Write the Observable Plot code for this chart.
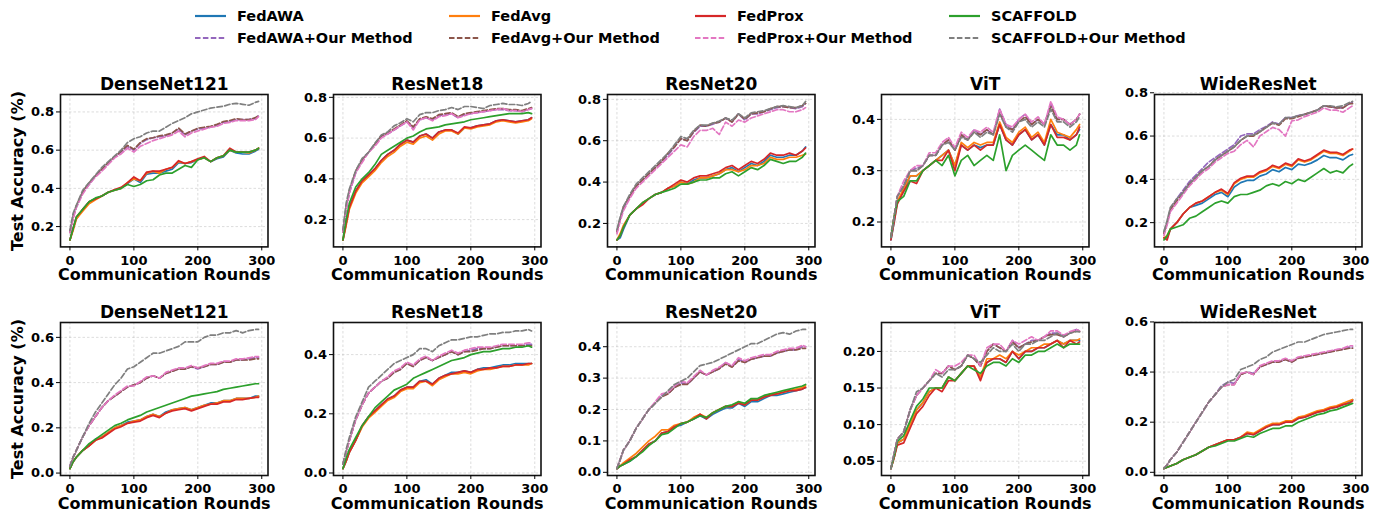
<!DOCTYPE html>
<html><head><meta charset="utf-8">
<script src="https://cdn.jsdelivr.net/npm/d3@7"></script>
<script src="https://cdn.jsdelivr.net/npm/@observablehq/plot@0.6"></script>
<style>
body{margin:0;background:#fff;}
#root{position:relative;width:1380px;height:512px;overflow:hidden;font-family:"DejaVu Sans",sans-serif;font-weight:bold;color:#000;background:#fff;}
.abs{position:absolute;}
.ylab{position:absolute;white-space:nowrap;font-size:16px;transform:translate(-50%,-50%) rotate(-90deg);}
.leg{position:absolute;font-size:14.5px;white-space:nowrap;transform:translateY(-50%);}
</style></head><body><div id="root"></div>
<script>
// ---------------- data ----------------
const rounds = [0,5,10,20, 30,40,50,60,70,80,90,100, 110,120,130,140,150,160,170,180,190,200, 210,220,230,240,250,260,270,280,290,295];
const methods = ["FedAWA","FedAvg","FedProx","SCAFFOLD","FedAWA+Our Method","FedAvg+Our Method","FedProx+Our Method","SCAFFOLD+Our Method"];
const colors = ["#1f77b4","#ff7f0e","#d62728","#2ca02c","#9467bd","#8c564b","#e377c2","#7f7f7f"];
const dashed = [false,false,false,false,true,true,true,true];
const drawOrder = [0,4,1,5,2,6,3,7];
const models = ["DenseNet121","ResNet18","ResNet20","ViT","WideResNet"];
const xTicks = [0,100,200,300];
const yTicksRow1 = [[0.2,0.4,0.6,0.8],[0.2,0.4,0.6,0.8],[0.2,0.4,0.6,0.8],[0.2,0.3,0.4],[0.2,0.4,0.6,0.8]];
const yTicksRow2 = [[0.0,0.2,0.4,0.6],[0.0,0.2,0.4],[0.0,0.1,0.2,0.3,0.4],[0.05,0.10,0.15,0.20],[0.0,0.2,0.4,0.6]];
const yFormatRow1 = [".1f",".1f",".1f",".1f",".1f"];
const yFormatRow2 = [".1f",".1f",".1f",".2f",".1f"];

// each: [FedAWA, FedAvg, FedProx, SCAFFOLD, FedAWA+, FedAvg+, FedProx+, SCAFFOLD+]
const row1DenseNet121 = [
 [0.13,0.19,0.24,0.29, 0.33,0.345,0.36,0.38,0.39,0.40,0.425,0.45, 0.43,0.475,0.48,0.48,0.49,0.50,0.535,0.53,0.535,0.55, 0.56,0.54,0.555,0.565,0.60,0.585,0.58,0.58,0.595,0.605],
 [0.13,0.18,0.24,0.28, 0.32,0.34,0.36,0.38,0.39,0.40,0.43,0.45, 0.44,0.48,0.49,0.48,0.50,0.51,0.54,0.53,0.54,0.55, 0.56,0.54,0.56,0.57,0.60,0.59,0.59,0.585,0.60,0.61],
 [0.13,0.19,0.25,0.29, 0.33,0.345,0.36,0.38,0.394,0.405,0.43,0.46, 0.44,0.485,0.49,0.49,0.50,0.51,0.545,0.53,0.54,0.555, 0.567,0.54,0.56,0.57,0.61,0.59,0.59,0.59,0.60,0.61],
 [0.13,0.19,0.25,0.29, 0.33,0.35,0.36,0.38,0.39,0.40,0.42,0.41, 0.42,0.44,0.445,0.47,0.48,0.48,0.50,0.52,0.51,0.55, 0.56,0.54,0.56,0.57,0.60,0.59,0.59,0.59,0.60,0.61],
 [0.17,0.25,0.30,0.38, 0.42,0.465,0.50,0.53,0.565,0.59,0.62,0.60, 0.635,0.655,0.665,0.67,0.675,0.69,0.71,0.68,0.70,0.71, 0.715,0.72,0.73,0.745,0.75,0.76,0.76,0.76,0.765,0.78],
 [0.17,0.25,0.31,0.38, 0.43,0.465,0.50,0.535,0.565,0.595,0.625,0.605, 0.64,0.66,0.665,0.675,0.68,0.69,0.715,0.685,0.70,0.715, 0.72,0.725,0.735,0.75,0.755,0.765,0.76,0.76,0.77,0.78],
 [0.17,0.24,0.30,0.37, 0.42,0.46,0.49,0.525,0.56,0.58,0.61,0.59, 0.62,0.635,0.65,0.66,0.67,0.68,0.70,0.67,0.69,0.70, 0.71,0.72,0.725,0.74,0.745,0.755,0.755,0.755,0.76,0.775],
 [0.18,0.27,0.31,0.39, 0.43,0.47,0.51,0.54,0.57,0.60,0.64,0.66, 0.67,0.69,0.70,0.70,0.72,0.74,0.755,0.77,0.79,0.80, 0.81,0.82,0.825,0.83,0.84,0.845,0.84,0.835,0.85,0.855]
];
const row1ResNet18 = [
 [0.10,0.18,0.26,0.34, 0.39,0.42,0.45,0.49,0.52,0.54,0.57,0.59, 0.58,0.61,0.62,0.60,0.63,0.64,0.64,0.62,0.65,0.65, 0.66,0.665,0.67,0.685,0.69,0.685,0.68,0.685,0.69,0.70],
 [0.10,0.17,0.25,0.33, 0.38,0.41,0.44,0.48,0.51,0.53,0.56,0.58, 0.57,0.60,0.61,0.59,0.62,0.635,0.635,0.62,0.65,0.645, 0.655,0.66,0.665,0.68,0.685,0.68,0.675,0.68,0.685,0.695],
 [0.10,0.18,0.26,0.34, 0.39,0.42,0.45,0.49,0.52,0.54,0.57,0.59, 0.58,0.61,0.62,0.60,0.63,0.64,0.64,0.625,0.655,0.65, 0.66,0.665,0.67,0.685,0.69,0.685,0.68,0.685,0.69,0.70],
 [0.10,0.20,0.28,0.36, 0.40,0.43,0.47,0.52,0.54,0.56,0.58,0.60, 0.61,0.63,0.645,0.65,0.655,0.665,0.67,0.675,0.68,0.69, 0.695,0.70,0.705,0.71,0.715,0.72,0.72,0.72,0.725,0.72],
 [0.14,0.25,0.33,0.43, 0.49,0.53,0.57,0.61,0.62,0.64,0.66,0.68, 0.65,0.69,0.70,0.69,0.71,0.715,0.72,0.70,0.715,0.72, 0.725,0.73,0.735,0.74,0.74,0.735,0.735,0.73,0.74,0.745],
 [0.14,0.26,0.34,0.44, 0.49,0.53,0.57,0.61,0.625,0.645,0.665,0.685, 0.655,0.695,0.705,0.695,0.715,0.72,0.725,0.705,0.72,0.725, 0.73,0.735,0.74,0.745,0.745,0.74,0.74,0.735,0.745,0.75],
 [0.14,0.25,0.33,0.43, 0.48,0.53,0.56,0.60,0.62,0.64,0.66,0.68, 0.64,0.69,0.70,0.685,0.705,0.71,0.72,0.70,0.71,0.72, 0.725,0.73,0.735,0.74,0.745,0.735,0.735,0.73,0.74,0.745],
 [0.15,0.28,0.35,0.44, 0.50,0.53,0.575,0.615,0.63,0.66,0.675,0.695, 0.68,0.715,0.725,0.725,0.735,0.74,0.75,0.74,0.755,0.755, 0.75,0.745,0.76,0.765,0.77,0.765,0.765,0.76,0.77,0.78]
];
const row1ResNet20 = [
 [0.12,0.13,0.17,0.24, 0.27,0.30,0.32,0.34,0.35,0.37,0.38,0.40, 0.39,0.41,0.42,0.42,0.43,0.44,0.46,0.47,0.45,0.47, 0.49,0.48,0.50,0.53,0.52,0.52,0.53,0.53,0.55,0.57],
 [0.12,0.15,0.19,0.24, 0.27,0.30,0.32,0.34,0.35,0.37,0.38,0.40, 0.39,0.40,0.42,0.42,0.43,0.44,0.46,0.46,0.45,0.46, 0.48,0.48,0.49,0.52,0.51,0.51,0.52,0.52,0.53,0.535],
 [0.12,0.14,0.18,0.24, 0.27,0.29,0.32,0.34,0.35,0.37,0.39,0.41, 0.40,0.42,0.43,0.43,0.44,0.45,0.47,0.48,0.46,0.48, 0.50,0.49,0.51,0.54,0.53,0.53,0.54,0.53,0.55,0.565],
 [0.12,0.14,0.18,0.24, 0.27,0.30,0.32,0.34,0.35,0.36,0.37,0.39, 0.39,0.40,0.41,0.41,0.42,0.42,0.44,0.45,0.43,0.45, 0.47,0.46,0.48,0.51,0.50,0.49,0.50,0.50,0.52,0.54],
 [0.16,0.22,0.27,0.33, 0.38,0.41,0.44,0.47,0.50,0.53,0.57,0.61, 0.60,0.64,0.67,0.67,0.68,0.69,0.71,0.69,0.73,0.70, 0.73,0.73,0.74,0.75,0.76,0.765,0.76,0.755,0.765,0.78],
 [0.16,0.22,0.28,0.33, 0.38,0.41,0.44,0.47,0.50,0.54,0.57,0.61, 0.60,0.645,0.675,0.67,0.685,0.69,0.71,0.69,0.73,0.705, 0.73,0.735,0.74,0.755,0.765,0.765,0.76,0.76,0.77,0.78],
 [0.15,0.21,0.26,0.32, 0.37,0.40,0.43,0.46,0.49,0.52,0.55,0.58, 0.57,0.62,0.65,0.65,0.66,0.63,0.69,0.67,0.70,0.69, 0.71,0.72,0.73,0.74,0.75,0.75,0.74,0.74,0.75,0.76],
 [0.17,0.23,0.28,0.34, 0.39,0.42,0.45,0.48,0.51,0.54,0.58,0.62, 0.61,0.65,0.675,0.675,0.685,0.695,0.71,0.70,0.73,0.71, 0.735,0.74,0.745,0.755,0.765,0.77,0.765,0.76,0.77,0.79]
];
const row1ViT = [
 [0.165,0.20,0.24,0.26, 0.29,0.29,0.30,0.31,0.32,0.33,0.34,0.31, 0.35,0.34,0.35,0.345,0.35,0.35,0.39,0.36,0.35,0.37, 0.38,0.36,0.37,0.35,0.39,0.37,0.37,0.36,0.37,0.38],
 [0.17,0.21,0.24,0.265, 0.29,0.29,0.30,0.31,0.32,0.33,0.34,0.31, 0.355,0.345,0.355,0.35,0.355,0.355,0.395,0.365,0.355,0.375, 0.385,0.365,0.375,0.355,0.40,0.375,0.37,0.365,0.38,0.39],
 [0.165,0.20,0.235,0.26, 0.28,0.275,0.30,0.31,0.32,0.32,0.34,0.30, 0.35,0.34,0.35,0.34,0.35,0.35,0.39,0.36,0.35,0.37, 0.38,0.36,0.37,0.35,0.39,0.365,0.365,0.36,0.37,0.385],
 [0.17,0.21,0.24,0.25, 0.28,0.28,0.30,0.31,0.32,0.31,0.33,0.29, 0.32,0.33,0.31,0.32,0.33,0.32,0.37,0.30,0.33,0.34, 0.35,0.34,0.33,0.32,0.37,0.35,0.35,0.34,0.35,0.37],
 [0.17,0.21,0.25,0.27, 0.30,0.305,0.31,0.33,0.33,0.35,0.36,0.34, 0.37,0.36,0.38,0.37,0.38,0.37,0.42,0.39,0.38,0.40, 0.41,0.39,0.40,0.39,0.43,0.40,0.40,0.39,0.40,0.41],
 [0.17,0.21,0.25,0.27, 0.30,0.30,0.31,0.33,0.33,0.35,0.36,0.34, 0.37,0.36,0.375,0.37,0.38,0.37,0.415,0.385,0.38,0.395, 0.405,0.39,0.40,0.39,0.425,0.40,0.40,0.39,0.40,0.41],
 [0.17,0.21,0.25,0.28, 0.30,0.31,0.31,0.335,0.335,0.355,0.365,0.345, 0.375,0.365,0.38,0.375,0.385,0.375,0.42,0.39,0.385,0.40, 0.41,0.395,0.405,0.39,0.435,0.405,0.40,0.39,0.40,0.41],
 [0.17,0.21,0.25,0.27, 0.30,0.30,0.31,0.33,0.33,0.35,0.355,0.34, 0.365,0.36,0.375,0.365,0.375,0.37,0.41,0.385,0.375,0.395, 0.40,0.385,0.395,0.385,0.42,0.395,0.395,0.385,0.395,0.405]
];
const row1WideResNet = [
 [0.13,0.13,0.17,0.20, 0.24,0.27,0.28,0.29,0.31,0.33,0.34,0.32, 0.365,0.385,0.395,0.395,0.415,0.425,0.445,0.435,0.455,0.445, 0.47,0.465,0.475,0.49,0.51,0.50,0.50,0.49,0.51,0.515],
 [0.13,0.14,0.17,0.20, 0.24,0.27,0.29,0.30,0.32,0.34,0.35,0.33, 0.38,0.40,0.41,0.41,0.43,0.44,0.46,0.45,0.47,0.46, 0.49,0.48,0.49,0.51,0.53,0.52,0.52,0.51,0.53,0.54],
 [0.13,0.12,0.17,0.20, 0.24,0.27,0.29,0.30,0.32,0.34,0.355,0.335, 0.385,0.405,0.415,0.415,0.435,0.445,0.465,0.455,0.475,0.465, 0.495,0.485,0.495,0.515,0.535,0.525,0.525,0.515,0.535,0.54],
 [0.12,0.14,0.17,0.18, 0.19,0.22,0.23,0.25,0.27,0.29,0.30,0.29, 0.32,0.33,0.33,0.34,0.35,0.37,0.38,0.37,0.39,0.38, 0.40,0.39,0.41,0.43,0.45,0.43,0.44,0.43,0.46,0.47],
 [0.15,0.20,0.26,0.31, 0.35,0.39,0.42,0.45,0.48,0.50,0.52,0.54, 0.56,0.60,0.61,0.61,0.63,0.645,0.665,0.655,0.685,0.685, 0.695,0.70,0.71,0.72,0.74,0.735,0.73,0.73,0.75,0.755],
 [0.15,0.20,0.26,0.30, 0.34,0.38,0.41,0.44,0.46,0.49,0.51,0.53, 0.55,0.58,0.60,0.60,0.62,0.64,0.66,0.65,0.68,0.68, 0.69,0.70,0.71,0.72,0.74,0.735,0.73,0.73,0.75,0.75],
 [0.14,0.19,0.25,0.29, 0.33,0.37,0.40,0.43,0.45,0.48,0.50,0.52, 0.53,0.56,0.58,0.55,0.60,0.62,0.64,0.63,0.60,0.67, 0.675,0.69,0.70,0.71,0.73,0.72,0.72,0.71,0.73,0.74],
 [0.16,0.21,0.27,0.31, 0.34,0.38,0.41,0.44,0.46,0.49,0.51,0.53, 0.55,0.58,0.60,0.605,0.62,0.64,0.66,0.655,0.685,0.685, 0.695,0.70,0.71,0.72,0.74,0.74,0.735,0.74,0.755,0.76]
];
const row2DenseNet121 = [
 [0.02,0.05,0.07,0.10, 0.12,0.15,0.16,0.18,0.20,0.21,0.225,0.23, 0.235,0.25,0.26,0.25,0.27,0.28,0.285,0.29,0.28,0.29, 0.30,0.31,0.31,0.32,0.32,0.33,0.33,0.33,0.34,0.34],
 [0.02,0.05,0.07,0.10, 0.12,0.145,0.16,0.18,0.20,0.21,0.22,0.23, 0.235,0.25,0.26,0.25,0.265,0.28,0.285,0.29,0.28,0.29, 0.30,0.305,0.31,0.32,0.32,0.33,0.33,0.33,0.335,0.34],
 [0.02,0.05,0.07,0.10, 0.12,0.145,0.155,0.175,0.195,0.205,0.22,0.225, 0.23,0.245,0.255,0.245,0.265,0.275,0.28,0.285,0.275,0.285, 0.295,0.305,0.305,0.315,0.315,0.325,0.325,0.33,0.335,0.335],
 [0.02,0.05,0.07,0.10, 0.13,0.15,0.17,0.19,0.21,0.22,0.235,0.245, 0.255,0.27,0.28,0.29,0.30,0.31,0.32,0.33,0.34,0.345, 0.35,0.355,0.36,0.37,0.375,0.38,0.385,0.39,0.395,0.395],
 [0.03,0.07,0.10,0.16, 0.21,0.25,0.29,0.32,0.34,0.36,0.38,0.39, 0.40,0.42,0.43,0.42,0.44,0.45,0.46,0.46,0.47,0.46, 0.47,0.48,0.48,0.49,0.49,0.50,0.50,0.505,0.51,0.51],
 [0.03,0.07,0.10,0.16, 0.21,0.25,0.29,0.32,0.34,0.36,0.38,0.39, 0.40,0.42,0.43,0.42,0.44,0.45,0.46,0.46,0.47,0.465, 0.47,0.48,0.48,0.49,0.49,0.50,0.50,0.50,0.505,0.505],
 [0.03,0.07,0.10,0.16, 0.21,0.25,0.29,0.32,0.345,0.365,0.385,0.385, 0.405,0.425,0.43,0.42,0.445,0.455,0.465,0.465,0.475,0.465, 0.475,0.485,0.485,0.495,0.495,0.505,0.505,0.51,0.515,0.515],
 [0.03,0.07,0.10,0.16, 0.22,0.27,0.31,0.35,0.39,0.42,0.46,0.47, 0.49,0.51,0.53,0.53,0.54,0.55,0.56,0.58,0.58,0.58, 0.60,0.61,0.61,0.62,0.62,0.63,0.62,0.63,0.635,0.635]
];
const row2ResNet18 = [
 [0.015,0.04,0.07,0.11, 0.16,0.19,0.21,0.23,0.25,0.26,0.28,0.29, 0.29,0.31,0.315,0.30,0.32,0.33,0.34,0.34,0.345,0.34, 0.35,0.355,0.355,0.36,0.365,0.365,0.37,0.37,0.37,0.37],
 [0.015,0.04,0.07,0.11, 0.155,0.185,0.205,0.225,0.245,0.255,0.275,0.285, 0.285,0.305,0.31,0.295,0.315,0.325,0.335,0.335,0.34,0.335, 0.345,0.35,0.35,0.355,0.36,0.36,0.365,0.365,0.365,0.37],
 [0.015,0.04,0.07,0.11, 0.16,0.19,0.21,0.23,0.25,0.26,0.28,0.29, 0.29,0.31,0.31,0.30,0.32,0.33,0.335,0.34,0.345,0.34, 0.35,0.35,0.355,0.355,0.36,0.36,0.365,0.365,0.37,0.37],
 [0.015,0.05,0.08,0.12, 0.16,0.19,0.22,0.24,0.26,0.28,0.29,0.30, 0.32,0.33,0.34,0.35,0.36,0.37,0.38,0.385,0.39,0.40, 0.405,0.41,0.41,0.415,0.42,0.42,0.425,0.425,0.43,0.425],
 [0.03,0.07,0.11,0.18, 0.23,0.27,0.29,0.31,0.32,0.34,0.35,0.37, 0.36,0.38,0.39,0.38,0.39,0.40,0.41,0.40,0.41,0.415, 0.42,0.42,0.42,0.425,0.43,0.43,0.43,0.43,0.435,0.435],
 [0.03,0.07,0.11,0.18, 0.23,0.27,0.29,0.31,0.32,0.34,0.35,0.37, 0.36,0.38,0.39,0.38,0.39,0.40,0.41,0.40,0.41,0.41, 0.415,0.42,0.42,0.425,0.43,0.43,0.43,0.43,0.43,0.43],
 [0.03,0.07,0.11,0.18, 0.23,0.27,0.29,0.31,0.325,0.345,0.355,0.375, 0.365,0.385,0.395,0.38,0.395,0.405,0.415,0.405,0.415,0.42, 0.425,0.425,0.425,0.43,0.435,0.435,0.435,0.435,0.44,0.44],
 [0.03,0.08,0.12,0.19, 0.24,0.29,0.31,0.33,0.35,0.37,0.38,0.39, 0.40,0.42,0.42,0.41,0.43,0.44,0.45,0.45,0.455,0.46, 0.46,0.465,0.47,0.47,0.475,0.475,0.48,0.48,0.485,0.48]
];
const row2ResNet20 = [
 [0.012,0.02,0.025,0.035, 0.05,0.07,0.09,0.10,0.125,0.13,0.145,0.15, 0.16,0.17,0.18,0.17,0.185,0.195,0.205,0.205,0.22,0.21, 0.225,0.225,0.235,0.245,0.245,0.25,0.255,0.26,0.265,0.27],
 [0.012,0.02,0.03,0.045, 0.06,0.08,0.10,0.115,0.135,0.135,0.15,0.155, 0.16,0.175,0.185,0.175,0.19,0.20,0.21,0.21,0.225,0.215, 0.23,0.23,0.24,0.25,0.25,0.255,0.26,0.265,0.27,0.275],
 [0.012,0.02,0.025,0.04, 0.05,0.07,0.09,0.10,0.125,0.13,0.145,0.155, 0.16,0.17,0.185,0.17,0.19,0.20,0.21,0.21,0.22,0.215, 0.23,0.23,0.24,0.245,0.25,0.255,0.26,0.26,0.265,0.27],
 [0.012,0.02,0.025,0.035, 0.05,0.065,0.085,0.10,0.12,0.125,0.14,0.155, 0.16,0.17,0.18,0.175,0.19,0.20,0.21,0.215,0.225,0.22, 0.235,0.235,0.245,0.25,0.255,0.26,0.265,0.27,0.275,0.28],
 [0.012,0.04,0.07,0.10, 0.14,0.17,0.20,0.22,0.245,0.25,0.27,0.285, 0.28,0.30,0.32,0.31,0.32,0.33,0.35,0.335,0.36,0.35, 0.36,0.365,0.37,0.37,0.38,0.385,0.39,0.39,0.40,0.40],
 [0.012,0.04,0.07,0.10, 0.14,0.17,0.20,0.22,0.24,0.25,0.27,0.28, 0.28,0.30,0.32,0.31,0.32,0.33,0.345,0.335,0.355,0.35, 0.36,0.365,0.37,0.37,0.38,0.385,0.39,0.39,0.395,0.395],
 [0.012,0.04,0.07,0.10, 0.14,0.17,0.20,0.225,0.25,0.255,0.275,0.29, 0.285,0.305,0.325,0.31,0.325,0.335,0.35,0.34,0.365,0.355, 0.365,0.37,0.375,0.375,0.385,0.39,0.395,0.395,0.405,0.40],
 [0.012,0.04,0.07,0.10, 0.14,0.17,0.20,0.22,0.24,0.26,0.28,0.29, 0.30,0.32,0.34,0.345,0.35,0.36,0.37,0.38,0.39,0.40, 0.41,0.41,0.42,0.43,0.44,0.445,0.44,0.45,0.455,0.455]
];
const row2ViT = [
 [0.04,0.055,0.075,0.08, 0.10,0.12,0.13,0.145,0.15,0.15,0.165,0.16, 0.17,0.18,0.18,0.165,0.185,0.19,0.19,0.185,0.20,0.19, 0.20,0.20,0.205,0.205,0.21,0.215,0.21,0.215,0.215,0.215],
 [0.04,0.055,0.075,0.08, 0.10,0.12,0.13,0.145,0.15,0.15,0.165,0.16, 0.17,0.18,0.18,0.165,0.19,0.19,0.195,0.19,0.20,0.195, 0.20,0.205,0.205,0.21,0.21,0.215,0.21,0.215,0.215,0.217],
 [0.04,0.055,0.072,0.075, 0.095,0.115,0.125,0.14,0.15,0.145,0.16,0.16, 0.17,0.18,0.18,0.16,0.185,0.19,0.19,0.185,0.20,0.19, 0.20,0.20,0.205,0.205,0.21,0.215,0.205,0.215,0.21,0.213],
 [0.04,0.057,0.077,0.085, 0.105,0.125,0.135,0.15,0.15,0.15,0.165,0.16, 0.17,0.18,0.175,0.17,0.18,0.185,0.185,0.18,0.19,0.185, 0.195,0.195,0.20,0.20,0.205,0.21,0.205,0.21,0.21,0.21],
 [0.04,0.06,0.08,0.09, 0.12,0.14,0.15,0.16,0.17,0.17,0.18,0.175, 0.18,0.195,0.19,0.18,0.20,0.21,0.205,0.20,0.215,0.205, 0.21,0.215,0.215,0.22,0.225,0.225,0.22,0.225,0.23,0.228],
 [0.04,0.06,0.08,0.09, 0.12,0.14,0.15,0.16,0.17,0.17,0.18,0.175, 0.18,0.195,0.19,0.18,0.20,0.21,0.205,0.20,0.213,0.205, 0.21,0.213,0.215,0.22,0.223,0.223,0.22,0.225,0.228,0.227],
 [0.04,0.06,0.08,0.09, 0.12,0.14,0.15,0.16,0.175,0.17,0.18,0.18, 0.185,0.195,0.195,0.18,0.205,0.21,0.21,0.20,0.215,0.21, 0.215,0.22,0.215,0.22,0.228,0.228,0.222,0.227,0.23,0.228],
 [0.04,0.06,0.08,0.09, 0.12,0.145,0.15,0.16,0.17,0.165,0.175,0.175, 0.18,0.195,0.19,0.185,0.195,0.205,0.20,0.20,0.21,0.20, 0.21,0.21,0.215,0.215,0.22,0.225,0.22,0.225,0.227,0.227]
];
const row2WideResNet = [
 [0.015,0.02,0.025,0.035, 0.05,0.06,0.07,0.085,0.10,0.11,0.12,0.13, 0.13,0.14,0.155,0.15,0.165,0.18,0.19,0.19,0.20,0.20, 0.215,0.22,0.23,0.24,0.245,0.255,0.26,0.27,0.28,0.29],
 [0.015,0.02,0.025,0.035, 0.05,0.06,0.07,0.085,0.10,0.11,0.12,0.13, 0.13,0.14,0.16,0.155,0.17,0.185,0.195,0.195,0.205,0.205, 0.22,0.225,0.235,0.245,0.25,0.26,0.265,0.275,0.285,0.29],
 [0.015,0.02,0.025,0.035, 0.05,0.06,0.07,0.085,0.10,0.11,0.12,0.13, 0.13,0.14,0.155,0.15,0.165,0.18,0.19,0.19,0.20,0.20, 0.215,0.22,0.23,0.24,0.245,0.255,0.26,0.27,0.275,0.285],
 [0.015,0.02,0.025,0.035, 0.05,0.06,0.07,0.085,0.10,0.105,0.115,0.125, 0.125,0.135,0.145,0.14,0.155,0.165,0.175,0.175,0.185,0.185, 0.20,0.21,0.22,0.23,0.235,0.245,0.25,0.26,0.27,0.275],
 [0.015,0.03,0.05,0.08, 0.12,0.16,0.20,0.24,0.28,0.31,0.345,0.36, 0.355,0.39,0.40,0.395,0.42,0.43,0.44,0.44,0.45,0.44, 0.455,0.46,0.465,0.47,0.475,0.48,0.49,0.49,0.50,0.50],
 [0.015,0.03,0.05,0.08, 0.12,0.16,0.20,0.24,0.28,0.31,0.34,0.35, 0.35,0.39,0.40,0.39,0.42,0.43,0.44,0.44,0.45,0.44, 0.455,0.46,0.465,0.47,0.475,0.48,0.485,0.49,0.495,0.495],
 [0.015,0.03,0.05,0.08, 0.12,0.16,0.20,0.24,0.28,0.31,0.34,0.35, 0.35,0.395,0.40,0.39,0.425,0.435,0.445,0.445,0.455,0.445, 0.46,0.465,0.47,0.475,0.48,0.485,0.49,0.495,0.505,0.505],
 [0.015,0.03,0.05,0.08, 0.12,0.16,0.20,0.24,0.28,0.31,0.34,0.36, 0.37,0.41,0.42,0.43,0.45,0.46,0.48,0.49,0.50,0.51, 0.52,0.52,0.53,0.54,0.55,0.555,0.56,0.565,0.57,0.57]
];

const rowData = [
  [row1DenseNet121,row1ResNet18,row1ResNet20,row1ViT,row1WideResNet],
  [row2DenseNet121,row2ResNet18,row2ResNet20,row2ViT,row2WideResNet]
];
const rowTicks = [yTicksRow1, yTicksRow2];
const rowFormats = [yFormatRow1, yFormatRow2];

// ---------------- layout ----------------
const root = document.getElementById("root");
const frameLefts = [59.5, 333.3, 607.3, 880.7, 1154.3];
const frameW = 207.5;
const rowTops = [94.3, 322];
const frameHs = [152.4, 153];
const mL = 58, mR = 8, mT = 30, mB = 36;
const fontFam = '"DejaVu Sans", sans-serif';

function panel(r, c) {
  const series = rowData[r][c];
  const all = series.flat();
  const lo = d3.min(all), hi = d3.max(all), pad = (hi - lo) * 0.05;
  const yTicks = rowTicks[r][c];
  const fmt = d3.format(rowFormats[r][c]);
  const gridStyle = {stroke: "#b0b0b0", strokeOpacity: 0.55, strokeDasharray: "2.5,2", strokeWidth: 0.8};
  const marks = [
    Plot.gridX(xTicks, gridStyle),
    Plot.gridY(yTicks, gridStyle)
  ];
  for (const k of drawOrder) {
    const rows = rounds.map((x, i) => ({round: x, acc: series[k][i]}));
    const opts = {x: "round", y: "acc", stroke: colors[k], strokeWidth: 1.7, strokeLinejoin: "round"};
    if (dashed[k]) opts.strokeDasharray = "5.5,2.4";
    marks.push(Plot.line(rows, opts));
  }
  marks.push(Plot.frame({stroke: "#111", strokeWidth: 1.6}));
  marks.push(Plot.axisX(xTicks, {tickSize: 4, tickPadding: 4.5, fontSize: 13, fontWeight: "bold", fill: "#000", label: null}));
  marks.push(Plot.axisY(yTicks, {tickSize: 4, tickPadding: 2.5, fontSize: 13, fontWeight: "bold", fill: "#000", tickFormat: fmt, label: null}));
  marks.push(Plot.text([models[c]], {frameAnchor: "top", dy: -9.5, lineAnchor: "middle", fontSize: 17, fontWeight: "bold", fill: "#000"}));
  marks.push(Plot.text(["Communication Rounds"], {frameAnchor: "bottom", dy: 28, lineAnchor: "middle", fontSize: 16, fontWeight: "bold", fill: "#000"}));
  const chart = Plot.plot({
    width: mL + frameW + mR,
    height: mT + frameHs[r] + mB,
    marginLeft: mL, marginRight: mR, marginTop: mT, marginBottom: mB,
    x: {domain: [-14.75, 309.75]},
    y: {domain: [lo - pad, hi + pad]},
    style: {fontFamily: fontFam, fontSize: "13px", fontWeight: "bold", color: "#000", background: "transparent", overflow: "visible"},
    marks
  });
  const div = document.createElement("div");
  div.className = "abs";
  div.style.left = (frameLefts[c] - mL) + "px";
  div.style.top = (rowTops[r] - mT) + "px";
  div.appendChild(chart);
  root.appendChild(div);
}
for (let r = 0; r < 2; r++) for (let c = 0; c < 5; c++) panel(r, c);

// y labels
for (let r = 0; r < 2; r++) {
  const d = document.createElement("div");
  d.className = "ylab";
  d.textContent = "Test Accuracy (%)";
  d.style.left = "17px";
  d.style.top = (rowTops[r] + frameHs[r] / 2) + "px";
  root.appendChild(d);
}

// legend
const legHandleX = [195, 449, 695, 949];
const legTextX = [237, 491, 737, 991];
const legRowY = [16, 38];
methods.forEach((m, k) => {
  const col = k % 4, row = Math.floor(k / 4);
  const svg = d3.create("svg").attr("width", 31).attr("height", 6)
    .style("position", "absolute").style("left", legHandleX[col] + "px").style("top", (legRowY[row] - 3) + "px");
  svg.append("line").attr("x1", 0).attr("x2", 31).attr("y1", 3).attr("y2", 3)
    .attr("stroke", colors[k]).attr("stroke-width", 2.2)
    .attr("stroke-dasharray", dashed[k] ? "5.5,2.4" : null);
  root.appendChild(svg.node());
  const t = document.createElement("div");
  t.className = "leg";
  t.textContent = m;
  t.style.left = legTextX[col] + "px";
  t.style.top = legRowY[row] + "px";
  root.appendChild(t);
});
</script>
</body></html>
